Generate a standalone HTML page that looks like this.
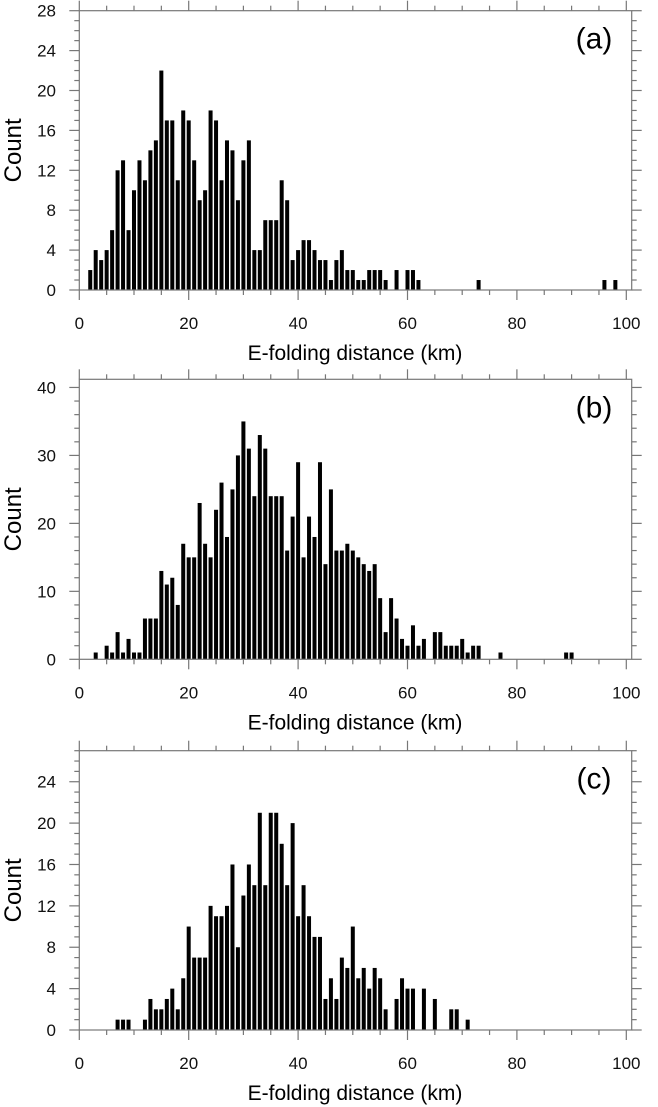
<!DOCTYPE html>
<html><head><meta charset="utf-8"><style>
body{margin:0;background:#fff;}
svg{display:block;font-family:"Liberation Sans",Arial,sans-serif;}
</style></head><body>
<svg id="chart" width="658" height="1107"></svg>
<script>
// Panel (a) data: bin centres (km) and counts
const aBins=[2,3,4,5,6,7,8,9,10,11,12,13,14,15,16,17,18,19,20,21,22,23,24,25,26,27,28,29,30,31,32,33,34,35,36,37,38,39,40,41,42,43,44,45,46,47,48,49,50,51,52,53,54,55,56,58,60,61,62,73,96,98];
const aCounts=[2,4,3,4,6,12,13,6,10,13,11,14,15,22,17,17,11,18,17,13,9,10,18,17,11,15,14,9,13,15,4,4,7,7,7,11,9,3,4,5,5,4,3,3,1,3,4,2,2,1,1,2,2,2,1,2,2,2,1,1,1,1];
// Panel (b)
const bBins=[3,5,6,7,8,9,10,11,12,13,14,15,16,17,18,19,20,21,22,23,24,25,26,27,28,29,30,31,32,33,34,35,36,37,38,39,40,41,42,43,44,45,46,47,48,49,50,51,52,53,54,55,56,57,58,59,60,61,62,63,65,66,67,68,69,70,71,72,73,77,89,90];
const bCounts=[1,2,1,4,1,3,1,1,6,6,6,13,11,12,8,17,15,15,23,17,15,22,26,18,25,30,35,31,24,33,31,24,24,24,16,21,29,15,21,18,29,14,25,16,16,17,16,15,14,13,14,9,4,9,6,3,2,5,2,3,4,4,2,2,2,3,1,2,2,1,1,1];
// Panel (c)
const cBins=[7,8,9,12,13,14,15,16,17,18,19,20,21,22,23,24,25,26,27,28,29,30,31,32,33,34,35,36,37,38,39,40,41,42,43,44,45,46,47,48,49,50,51,52,53,54,55,56,58,59,60,61,63,65,68,69,71];
const cCounts=[1,1,1,1,3,2,2,3,4,2,5,10,7,7,7,12,11,11,12,16,8,13,16,14,21,14,21,21,18,14,20,11,14,11,9,9,3,5,3,7,6,10,5,6,4,6,5,2,3,5,4,4,4,3,2,2,1];
const xTicks=[0,20,40,60,80,100];
const aTicks=[0,4,8,12,16,20,24,28];
const bTicks=[0,10,20,30,40];
const cTicks=[0,4,8,12,16,20,24];

const NS="http://www.w3.org/2000/svg";
const svg=document.getElementById('chart');
function mk(tag,attrs,parent){const e=document.createElementNS(NS,tag);for(const k in attrs)e.setAttribute(k,attrs[k]);(parent||svg).appendChild(e);return e;}

const X0=79.3,X1=631.7,XMAX=(631.7-79.3)/5.47;
const panels=[
 {id:'a',bins:aBins,counts:aCounts,ticks:aTicks,top:10.7,bot:290,ymax:28,minor:1,label:'(a)'},
 {id:'b',bins:bBins,counts:bCounts,ticks:bTicks,top:379.3,bot:659.3,ymax:41.2,minor:2,label:'(b)'},
 {id:'c',bins:cBins,counts:cCounts,ticks:cTicks,top:750.7,bot:1030,ymax:27,minor:1,label:'(c)'}
];
panels.forEach(p=>{
  const g=mk('g',{});
  
  
  const xs=v=>X0+v*5.47;
  const ys=v=>p.bot-v*(p.bot-p.top)/p.ymax;
  // bars
  p.bins.forEach((b,i)=>{
    const r=mk('rect',{x:xs(b)-2,y:ys(p.counts[i]),width:4,height:p.bot-ys(p.counts[i]),fill:'#000'},g);
    
    
  });
  // frame
  const fr=mk('rect',{x:X0,y:p.top,width:X1-X0,height:p.bot-p.top,fill:'none',stroke:'#777','stroke-width':1.2},g);
  
  
  // x ticks
  for(let v=0;v<=100;v+=5){
    const L=(v%20===0)?10:5,x=xs(v);
    mk('line',{x1:x,y1:p.bot,x2:x,y2:p.bot+L,stroke:'#777','stroke-width':1.2},g);
    mk('line',{x1:x,y1:p.top,x2:x,y2:p.top-L,stroke:'#777','stroke-width':1.2},g);
  }
  xTicks.forEach(v=>{
    const t=mk('text',{x:xs(v),y:p.bot+39,'text-anchor':'middle','font-size':17,fill:'#111'},g);
    t.textContent=v;
    
    
  });
  // y ticks
  const major=p.ticks[1];
  for(let v=0;v<=p.ymax+1e-6;v+=p.minor){
    const L=(v%major===0)?10:5,y=ys(v);
    mk('line',{x1:X0,y1:y,x2:X0-L,y2:y,stroke:'#777','stroke-width':1.2},g);
    mk('line',{x1:X1,y1:y,x2:X1+L,y2:y,stroke:'#777','stroke-width':1.2},g);
  }
  p.ticks.forEach(v=>{
    const t=mk('text',{x:56,y:ys(v)+6,'text-anchor':'end','font-size':17,fill:'#111'},g);
    t.textContent=v;
    
    
  });
  const xt=mk('text',{x:355,y:p.bot+70,'text-anchor':'middle','font-size':21,fill:'#000'},g);
  xt.textContent='E-folding distance (km)';
  
  
  const cy=(p.top+p.bot)/2;
  const yt=mk('text',{x:21,y:cy,'text-anchor':'middle','font-size':24,fill:'#000',transform:'rotate(-90 21 '+cy+')'},g);
  yt.textContent='Count';
  
  
  const pl=mk('text',{x:594,y:p.top+38,'text-anchor':'middle','font-size':30,fill:'#000'},g);
  pl.textContent=p.label;
  
  
});
</script>
</body></html>
